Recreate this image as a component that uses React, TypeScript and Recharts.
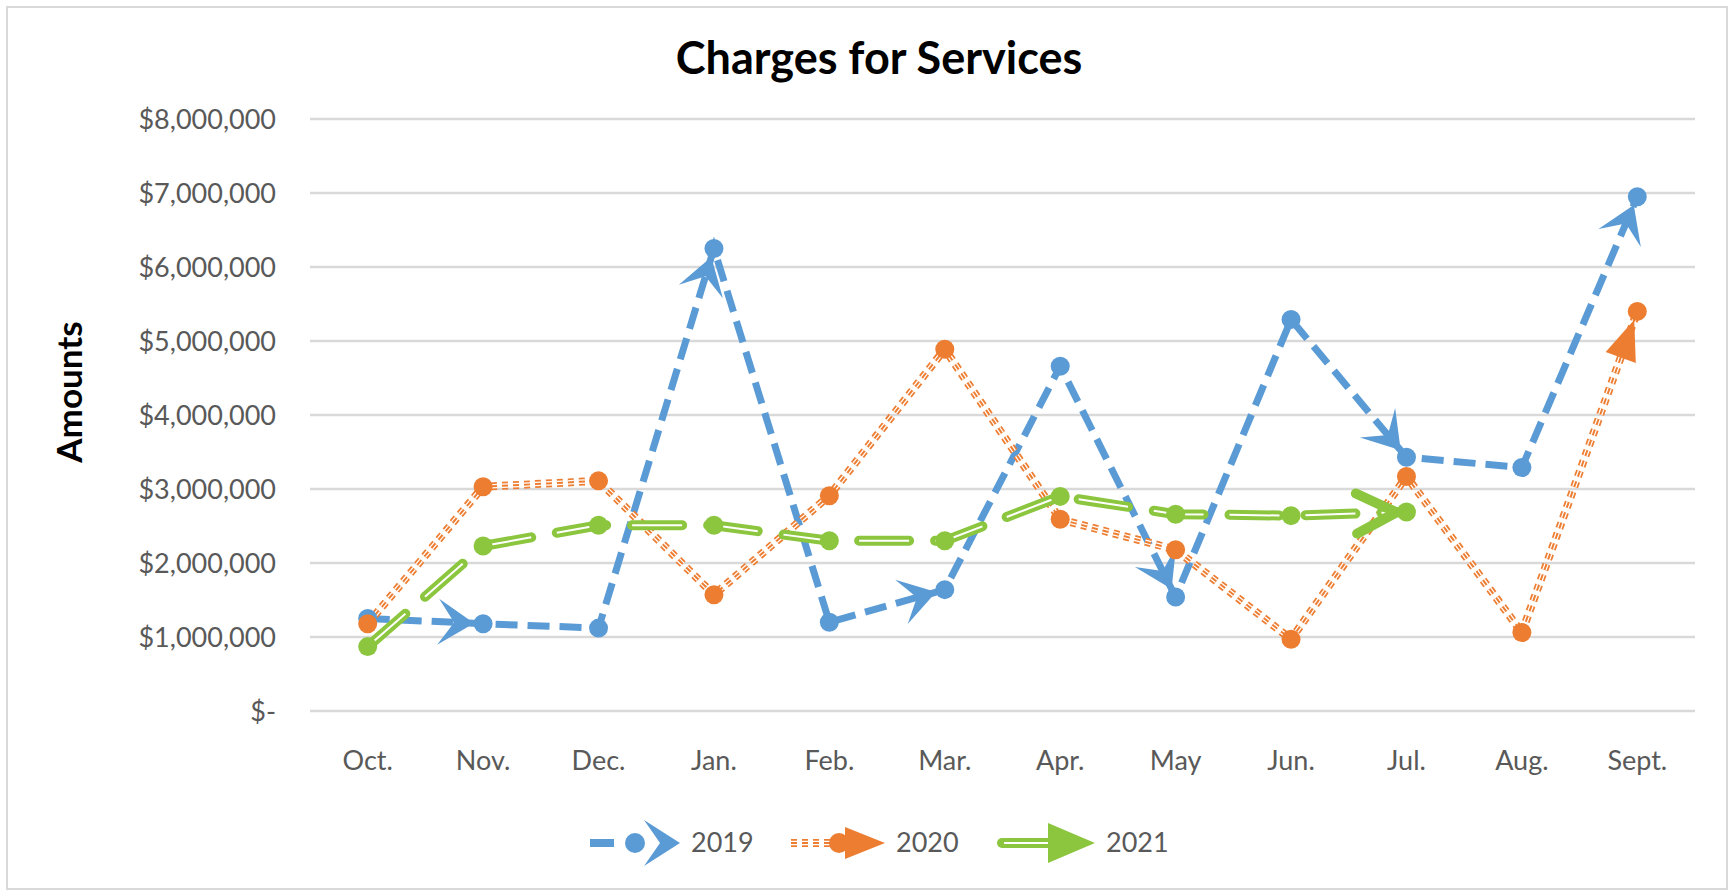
import React from 'react';
import { LineChart, Line, XAxis, YAxis, CartesianGrid } from 'recharts';

const months = ['Oct.', 'Nov.', 'Dec.', 'Jan.', 'Feb.', 'Mar.', 'Apr.', 'May', 'Jun.', 'Jul.', 'Aug.', 'Sept.'];
const charges2019 = [1250000, 1180000, 1120000, 6250000, 1200000, 1640000, 4660000, 1540000, 5290000, 3430000, 3290000, 6950000];
const charges2020 = [1180000, 3030000, 3110000, 1570000, 2910000, 4890000, 2590000, 2180000, 970000, 3170000, 1060000, 5400000];
const charges2021 = [870000, 2230000, 2510000, 2510000, 2300000, 2300000, 2900000, 2660000, 2640000, 2690000, null, null];
const yTicks = [0, 1000000, 2000000, 3000000, 4000000, 5000000, 6000000, 7000000, 8000000];
const seriesNames = ['2019', '2020', '2021'];

// points where Excel drew an arrow head at the end of the segment
const arrows2019 = [1, 3, 5, 7, 9, 11];
const arrows2020 = [11];
const arrows2021 = [9];

const BLUE = '#5B9BD5';
const ORANGE = '#ED7D31';
const GREEN = '#8CC63F';
const FONT = 'Lato, "Open Sans", sans-serif';
const ORANGE_DASH = '6 5';

const data = months.map((m, i) => ({
  month: m,
  y2019: charges2019[i],
  y2020: charges2020[i],
  y2021: charges2021[i],
}));

const fmtMoney = (v: number) => (v === 0 ? '$-' : '$' + v.toLocaleString('en-US'));

type Kind = 'stealth' | 'triangle' | 'open';

const arrowShape = (kind: Kind, color: string, tx: number, ty: number, ux: number, uy: number, key?: string) => {
  const nx = -uy;
  const ny = ux;
  if (kind === 'stealth') {
    const L = 36, W = 23, notch = 20;
    const pts = [
      [tx, ty],
      [tx - ux * L + nx * W, ty - uy * L + ny * W],
      [tx - ux * notch, ty - uy * notch],
      [tx - ux * L - nx * W, ty - uy * L - ny * W],
    ];
    return <polygon key={key} points={pts.map(p => p.join(',')).join(' ')} fill={color} />;
  }
  if (kind === 'triangle') {
    const L = 40, W = 16;
    const pts = [
      [tx, ty],
      [tx - ux * L + nx * W, ty - uy * L + ny * W],
      [tx - ux * L - nx * W, ty - uy * L - ny * W],
    ];
    return <polygon key={key} points={pts.map(p => p.join(',')).join(' ')} fill={color} />;
  }
  const L = 40, W = 20;
  const pts = [
    [tx - ux * L + nx * W, ty - uy * L + ny * W],
    [tx, ty],
    [tx - ux * L - nx * W, ty - uy * L - ny * W],
  ];
  return (
    <polyline key={key} points={pts.map(p => p.join(',')).join(' ')} fill="none" stroke={color}
      strokeWidth={10} strokeLinecap="round" strokeLinejoin="round" />
  );
};

const makeDot = (color: string, arrowAt: number[], kind: Kind) => (props: any) => {
  const { cx, cy, index, points, value } = props;
  if (value == null || cx == null || cy == null || isNaN(cy)) return <g key={`e-${index}`} />;
  let arrow = null;
  if (arrowAt.includes(index) && points && points[index - 1]) {
    const p = points[index - 1];
    const dx = cx - p.x;
    const dy = cy - p.y;
    const len = Math.hypot(dx, dy) || 1;
    const ux = dx / len;
    const uy = dy / len;
    const off = kind === 'open' ? 10 : 9;
    arrow = arrowShape(kind, color, cx - ux * off, cy - uy * off, ux, uy);
  }
  return (
    <g key={`d-${index}`}>
      {arrow}
      <circle cx={cx} cy={cy} r={9.5} fill={color} />
    </g>
  );
};

const LegendIcon: React.FC<{ i: number; x: number }> = ({ i, x }) => {
  const y = 843;
  if (i === 0) {
    return (
      <g>
        <line x1={x} y1={y} x2={x + 24} y2={y} stroke={BLUE} strokeWidth={8} />
        <circle cx={x + 45} cy={y} r={10} fill={BLUE} />
        {arrowShape('stealth', BLUE, x + 90, y, 1, 0)}
      </g>
    );
  }
  if (i === 1) {
    return (
      <g>
        <line x1={x} y1={y} x2={x + 40} y2={y} stroke={ORANGE} strokeWidth={8} strokeDasharray={ORANGE_DASH} />
        <line x1={x} y1={y} x2={x + 40} y2={y} stroke="#fff" strokeWidth={4.5} strokeDasharray={ORANGE_DASH} />
        <line x1={x} y1={y} x2={x + 40} y2={y} stroke={ORANGE} strokeWidth={2} strokeDasharray={ORANGE_DASH} />
        <circle cx={x + 48} cy={y} r={10} fill={ORANGE} />
        {arrowShape('triangle', ORANGE, x + 94, y, 1, 0)}
      </g>
    );
  }
  return (
    <g>
      <line x1={x + 4} y1={y} x2={x + 60} y2={y} stroke={GREEN} strokeWidth={10} strokeLinecap="round" />
      <line x1={x + 6} y1={y} x2={x + 56} y2={y} stroke="#fff" strokeWidth={2} />
      <polygon points={`${x + 97},${y} ${x + 50},${y - 20} ${x + 50},${y + 20}`} fill={GREEN} />
    </g>
  );
};

const legendX = [590, 791, 998];
const legendTextX = [691, 896, 1106];

export default function App() {
  return (
    <div style={{ position: 'absolute', left: 0, top: 0, width: 1734, height: 896, background: '#fff', fontFamily: FONT }}>
      <div style={{ position: 'absolute', left: 6, top: 6, width: 1722, height: 884, border: '2px solid #d9d9d9', boxSizing: 'border-box' }} />
      <div style={{ position: 'absolute', left: 0, width: 1734, top: 30, textAlign: 'center', fontSize: 45, fontWeight: 700, color: '#000', paddingLeft: 12 }}>
        Charges for Services
      </div>
      <div style={{ position: 'absolute', left: 68, top: 392, transform: 'translate(-50%, -50%) rotate(-90deg)', fontSize: 35, fontWeight: 700, color: '#000', whiteSpace: 'nowrap' }}>
        Amounts
      </div>
      <div style={{ position: 'absolute', left: 0, top: 0 }}>
        <LineChart width={1734} height={896} data={data} margin={{ top: 119, right: 39, left: 0, bottom: 125 }}>
          <CartesianGrid vertical={false} stroke="#d9d9d9" strokeWidth={2.5} />
          <XAxis dataKey="month" height={60} axisLine={false} tickLine={false} tickSize={0} tickMargin={40}
            padding={{ left: 57.7, right: 57.7 }} interval={0}
            tick={{ fill: '#595959', fontSize: 27, fontFamily: FONT }} />
          <YAxis width={310} domain={[0, 8000000]} ticks={yTicks} tickFormatter={fmtMoney} axisLine={false}
            tickLine={false} tickSize={0} tickMargin={34} interval={0}
            tick={{ fill: '#595959', fontSize: 27, fontFamily: FONT }} />
          <Line dataKey="y2019" name={seriesNames[0]} stroke={BLUE} strokeWidth={7} strokeDasharray="22 10"
            dot={makeDot(BLUE, arrows2019, 'stealth')} activeDot={false} isAnimationActive={false} />
          <Line dataKey="y2020" name={seriesNames[1]} stroke={ORANGE} strokeWidth={8} strokeDasharray={ORANGE_DASH}
            dot={false} activeDot={false} legendType="none" isAnimationActive={false} />
          <Line dataKey="y2020" name="2020-gap" stroke="#fff" strokeWidth={4.5} strokeDasharray={ORANGE_DASH}
            dot={false} activeDot={false} legendType="none" isAnimationActive={false} />
          <Line dataKey="y2020" name="2020-core" stroke={ORANGE} strokeWidth={2} strokeDasharray={ORANGE_DASH}
            dot={makeDot(ORANGE, arrows2020, 'triangle')} activeDot={false} legendType="none" isAnimationActive={false} />
          <Line dataKey="y2021" name={seriesNames[2]} stroke={GREEN} strokeWidth={10} strokeDasharray="50 26"
            strokeLinecap="round" dot={false} activeDot={false} isAnimationActive={false} />
          <Line dataKey="y2021" name="2021-core" stroke="#fff" strokeWidth={2} strokeDasharray="50 26"
            dot={makeDot(GREEN, arrows2021, 'open')} activeDot={false} legendType="none" isAnimationActive={false} />
        </LineChart>
      </div>
      <svg style={{ position: 'absolute', left: 0, top: 0 }} width={1734} height={896}>
        {seriesNames.map((name, i) => (
          <g key={name}>
            <LegendIcon i={i} x={legendX[i]} />
            <text x={legendTextX[i]} y={843} dy="0.35em" fontSize={27} fill="#595959" fontFamily={FONT}>{name}</text>
          </g>
        ))}
      </svg>
    </div>
  );
}
